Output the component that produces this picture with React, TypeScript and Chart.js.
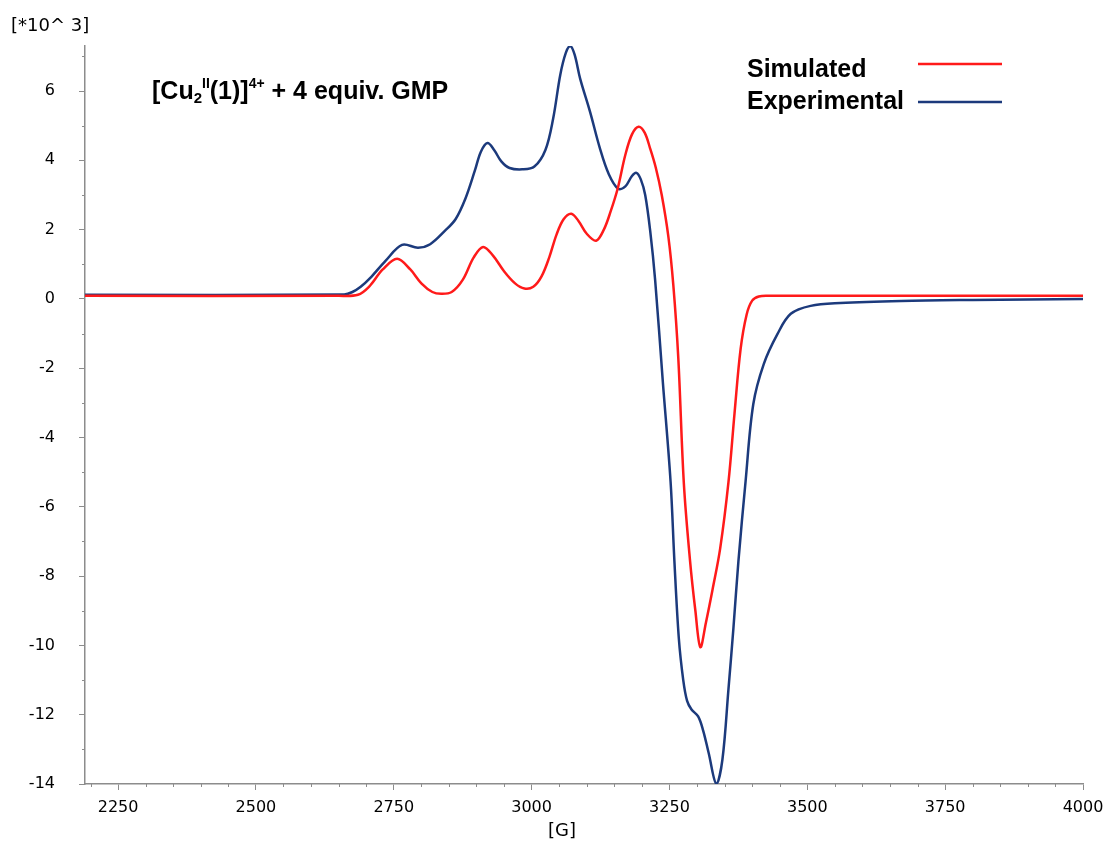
import React, { useEffect, useRef } from "react";
import { Chart, registerables } from "chart.js";

Chart.register(...registerables);

// ---- data (field in G, intensity in units of 10^3) ----
const simField = [
  2190, 2650, 2685, 2705, 2730, 2756, 2780, 2800, 2820, 2836, 2855, 2875, 2895, 2912, 2930, 2950,
  2970, 2987, 3003, 3018, 3032, 3045, 3058, 3072, 3085, 3100, 3117, 3131, 3143, 3156, 3170, 3182,
  3194, 3205, 3215, 3225, 3236, 3248, 3257, 3266, 3276, 3287, 3297, 3306, 3316, 3328, 3342, 3357,
  3368, 3379, 3390, 3400, 3412, 3430, 4000,
];
const simValue = [
  0.09, 0.09, 0.12, 0.35, 0.85, 1.16, 0.85, 0.45, 0.2, 0.15, 0.2, 0.55, 1.2, 1.5, 1.25, 0.8,
  0.45, 0.3, 0.35, 0.65, 1.2, 1.85, 2.3, 2.46, 2.25, 1.88, 1.68, 2.0, 2.51, 3.18, 4.16, 4.75,
  4.97, 4.8, 4.34, 3.8, 3.0, 1.8, 0.4, -1.7, -5.3, -7.5, -9.0, -10.05, -9.35, -8.4, -7.2, -5.29,
  -3.3, -1.45, -0.45, -0.05, 0.07, 0.09, 0.09,
];

const expField = [
  2190, 2660, 2675, 2690, 2707, 2735, 2765, 2794, 2816, 2843, 2862, 2880, 2897, 2908, 2920, 2932,
  2945, 2960, 2983, 3005, 3025, 3039, 3052, 3062, 3070, 3078, 3088, 3106, 3124, 3140, 3157, 3170,
  3182, 3190, 3198, 3206, 3215, 3224, 3238, 3252, 3259, 3267, 3275, 3282, 3290, 3302, 3311, 3321,
  3335, 3346, 3357, 3366, 3375, 3388, 3402, 3421, 3446, 3470, 3506, 3560, 3670, 3800, 4000,
];
const expValue = [
  0.12, 0.13, 0.2, 0.35, 0.6, 1.1, 1.56, 1.48, 1.58, 1.97, 2.3, 2.9, 3.7, 4.25, 4.5, 4.3,
  3.97, 3.78, 3.74, 3.82, 4.3, 5.2, 6.47, 7.1, 7.3, 7.05, 6.36, 5.4, 4.34, 3.6, 3.18, 3.25,
  3.55, 3.64, 3.45, 3.0, 1.97, 0.55, -2.4, -5.27, -7.58, -9.8, -11.0, -11.6, -11.85, -12.05, -12.45, -13.1,
  -14.0, -13.3, -11.26, -9.5, -7.58, -5.27, -3.04, -1.88, -1.01, -0.43, -0.2, -0.12, -0.06, -0.03, 0.0,
];

const seriesNames = ["Simulated", "Experimental"];
const seriesColors = ["#ff1a1a", "#1c3a7c"];
const xTickValues = [2250, 2500, 2750, 3000, 3250, 3500, 3750, 4000];
const yTickValues = [-14, -12, -10, -8, -6, -4, -2, 0, 2, 4, 6];
const xRange = [2190, 4000];
const yRange = [-14, 7.3];
const xAxisTitle = "[G]";
const yAxisUnit = "[*10^ 3]";
// title pieces: [text, kind] kind: n = normal, sub = subscript, sup = superscript
const titlePieces: [string, string][] = [
  ["[Cu", "n"],
  ["2", "sub"],
  ["II", "sup"],
  ["(1)]", "n"],
  ["4+", "sup"],
  [" + 4 equiv. GMP", "n"],
];

const AXIS_COLOR = "#8c8c8c";
const TICK_FONT = "DejaVu Sans";
const BOLD_FONT = "Liberation Sans";

const overlayPlugin = {
  id: "overlay",
  afterDraw(chart: any) {
    const ctx: CanvasRenderingContext2D = chart.ctx;
    const xs = chart.scales.x;
    const ys = chart.scales.y;
    ctx.save();

    // minor ticks
    ctx.strokeStyle = AXIS_COLOR;
    ctx.lineWidth = 1;
    for (let v = 2200; v <= 4000; v += 50) {
      if (v % 250 === 0) continue;
      const px = Math.round(xs.getPixelForValue(v)) + 0.5;
      ctx.beginPath();
      ctx.moveTo(px, ys.bottom);
      ctx.lineTo(px, ys.bottom + 3);
      ctx.stroke();
    }
    for (let v = -13; v <= 7; v += 2) {
      const py = Math.round(ys.getPixelForValue(v)) + 0.5;
      ctx.beginPath();
      ctx.moveTo(xs.left, py);
      ctx.lineTo(xs.left - 3, py);
      ctx.stroke();
    }

    // unit label top-left
    ctx.fillStyle = "#000";
    ctx.font = `18px "${TICK_FONT}"`;
    ctx.textAlign = "left";
    ctx.textBaseline = "middle";
    ctx.fillText(yAxisUnit, 11, 26);

    // x axis title
    ctx.textAlign = "center";
    ctx.fillText(xAxisTitle, 562, 831);

    // chart title with sub/superscripts
    let tx = 152;
    const base = 99;
    ctx.textAlign = "left";
    ctx.textBaseline = "alphabetic";
    for (const [t, kind] of titlePieces) {
      if (kind === "n") {
        ctx.font = `bold 25px "${BOLD_FONT}"`;
        ctx.fillText(t, tx, base);
      } else if (kind === "sub") {
        ctx.font = `bold 15px "${BOLD_FONT}"`;
        ctx.fillText(t, tx, base + 4);
      } else {
        ctx.font = `bold 14px "${BOLD_FONT}"`;
        ctx.fillText(t, tx, base - 11);
      }
      tx += ctx.measureText(t).width;
    }

    // legend
    ctx.font = `bold 25px "${BOLD_FONT}"`;
    ctx.textBaseline = "middle";
    const legendRows = [
      { ty: 70, ly: 64 },
      { ty: 102, ly: 102 },
    ];
    seriesNames.forEach((name, i) => {
      ctx.fillStyle = "#000";
      ctx.fillText(name, 747, legendRows[i].ty);
      ctx.strokeStyle = seriesColors[i];
      ctx.lineWidth = 2.5;
      ctx.beginPath();
      ctx.moveTo(918, legendRows[i].ly);
      ctx.lineTo(1002, legendRows[i].ly);
      ctx.stroke();
    });

    ctx.restore();
  },
};

export default function App() {
  const canvasRef = useRef<HTMLCanvasElement | null>(null);

  useEffect(() => {
    const canvas = canvasRef.current;
    if (!canvas) return;
    const chart = new Chart(canvas, {
      type: "line",
      data: {
        datasets: [
          {
            label: seriesNames[0],
            data: simField.map((g, i) => ({ x: g, y: simValue[i] })),
            borderColor: seriesColors[0],
            borderWidth: 2.5,
            pointRadius: 0,
            tension: 0.35,
            fill: false,
          },
          {
            label: seriesNames[1],
            data: expField.map((g, i) => ({ x: g, y: expValue[i] })),
            borderColor: seriesColors[1],
            borderWidth: 2.5,
            pointRadius: 0,
            tension: 0.35,
            fill: false,
          },
        ],
      },
      options: {
        responsive: false,
        animation: false,
        events: [],
        layout: { padding: { left: 0, top: 46, right: 29, bottom: 0 } },
        plugins: {
          legend: { display: false },
          tooltip: { enabled: false },
          title: { display: false },
        },
        scales: {
          x: {
            type: "linear",
            min: xRange[0],
            max: xRange[1],
            afterBuildTicks: (scale: any) => {
              scale.ticks = xTickValues.map((v) => ({ value: v }));
            },
            afterFit: (scale: any) => {
              scale.height = 61;
            },
            border: { display: true, color: AXIS_COLOR, width: 1.5 },
            grid: {
              drawOnChartArea: false,
              drawTicks: true,
              tickLength: 6,
              color: AXIS_COLOR,
            },
            ticks: {
              color: "#000",
              font: { family: TICK_FONT, size: 16 },
              padding: 8,
              maxRotation: 0,
              autoSkip: false,
              callback: (v: any) => String(v),
            },
          },
          y: {
            type: "linear",
            min: yRange[0],
            max: yRange[1],
            afterBuildTicks: (scale: any) => {
              scale.ticks = yTickValues.map((v) => ({ value: v }));
            },
            afterFit: (scale: any) => {
              scale.width = 85;
            },
            border: { display: true, color: AXIS_COLOR, width: 1.5 },
            grid: {
              drawOnChartArea: false,
              drawTicks: true,
              tickLength: 6,
              color: AXIS_COLOR,
            },
            ticks: {
              color: "#000",
              font: { family: TICK_FONT, size: 16 },
              padding: 24,
              autoSkip: false,
              callback: (v: any) => String(v),
            },
          },
        },
      },
      plugins: [overlayPlugin],
    } as any);
    return () => chart.destroy();
  }, []);

  return (
    <div style={{ position: "fixed", left: 0, top: 0, width: 1112, height: 845, background: "#fff" }}>
      <canvas ref={canvasRef} width={1112} height={845} style={{ display: "block" }} />
    </div>
  );
}
